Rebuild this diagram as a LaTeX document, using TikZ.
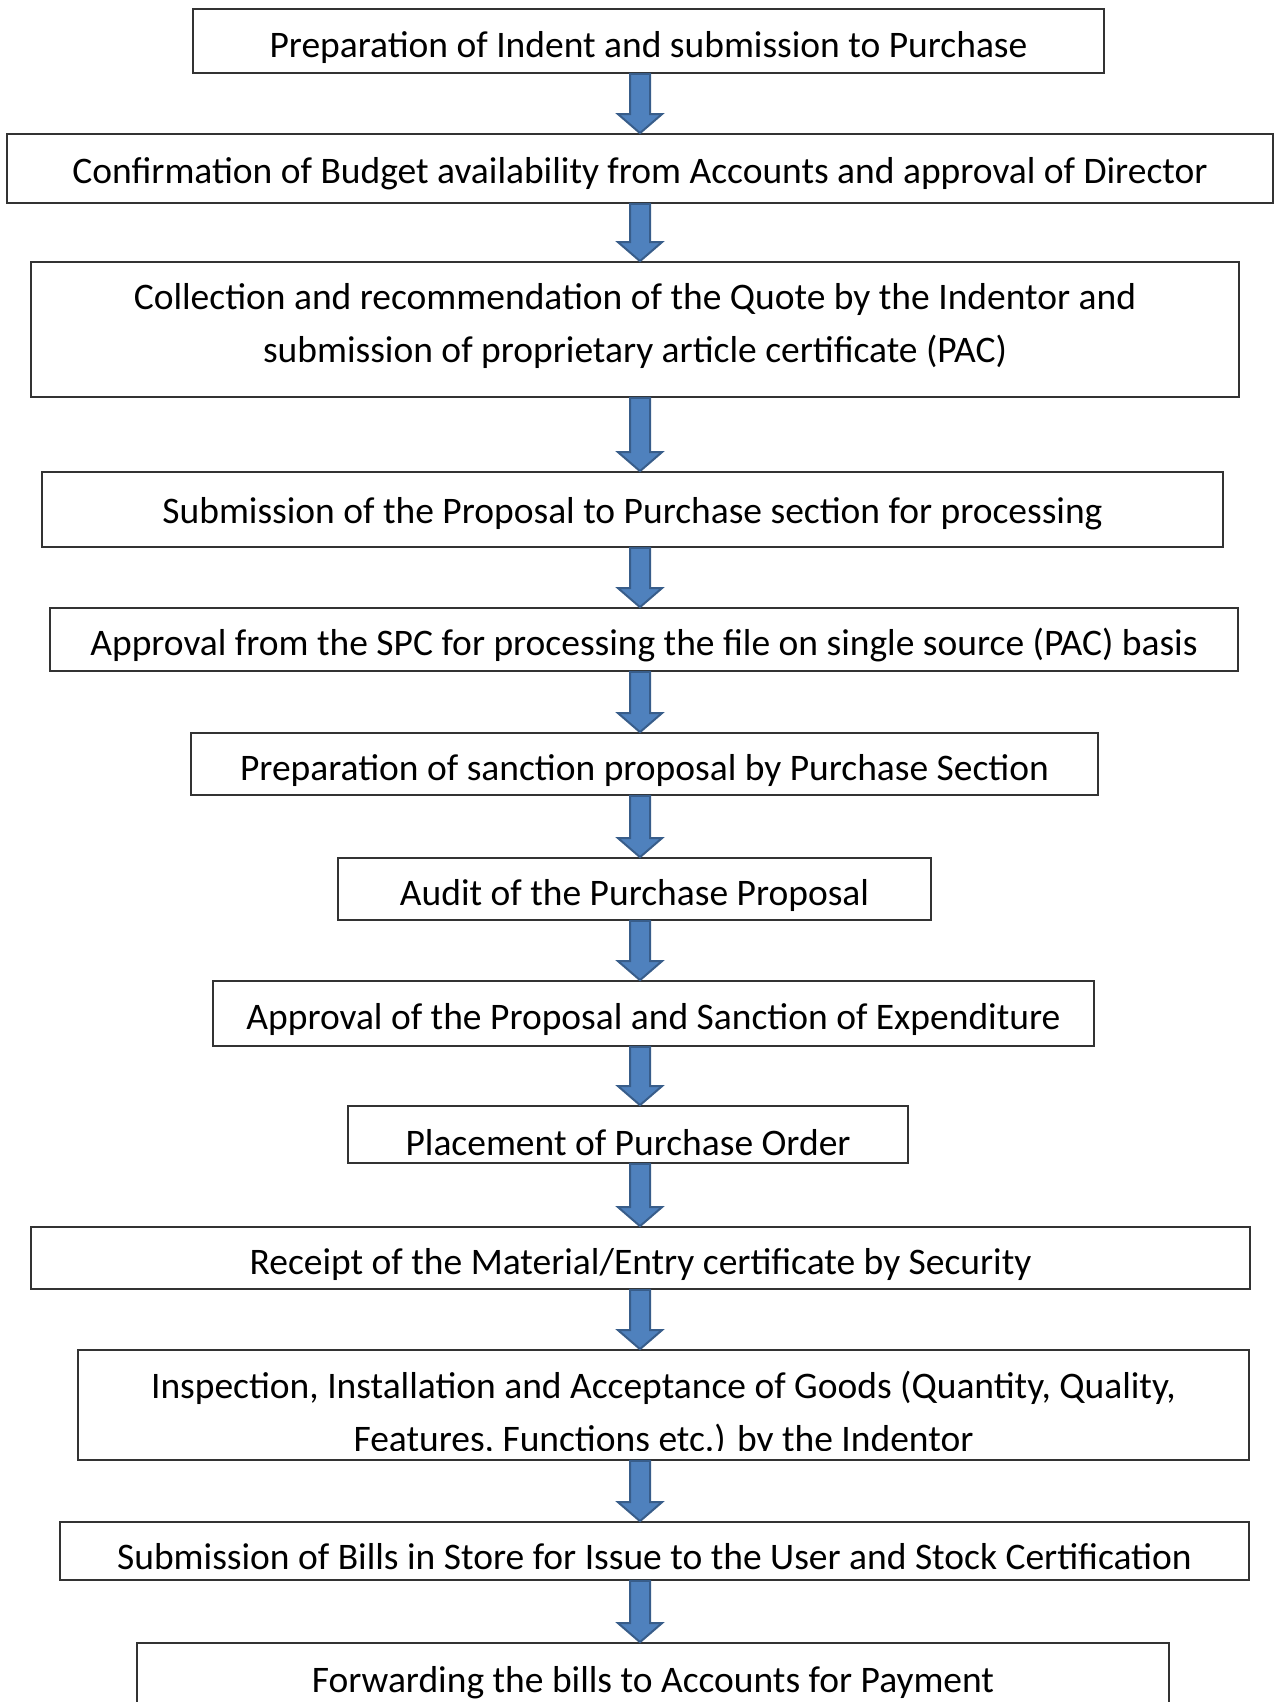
\documentclass[tikz,border=0pt]{standalone}
\usepackage{fontspec}
\setmainfont{Carlito}
\usepackage{tikz}
\usetikzlibrary{positioning, calc}
\usepackage{xcolor}
\definecolor{arrowfill}{HTML}{4F81BD}
\definecolor{arrowline}{HTML}{385D8A}
\newcommand{\flowarrow}[2]{\filldraw[blockarrow] let \p1=(#1.south -| spine), \p2=(#2.north -| spine) in (\x1-4pt,\y1) -- (\x1+4pt,\y1) -- (\x1+4pt,\y2+7.6pt) -- (\x1+8.8pt,\y2+7.6pt) -- (\x1,\y2) -- (\x1-8.8pt,\y2+7.6pt) -- (\x1-4pt,\y2+7.6pt) -- cycle;}

\begin{document}
\begin{tikzpicture}[ x=0.4pt, y=-0.4pt, box/.style={ rectangle, draw=black!80, line width=0.7pt, inner sep=0pt, align=center, font=\fontsize{15}{21.2}\selectfont }, onebox/.style={ box, text height=12.8pt, text depth=0pt }, steptext/.style={ inner sep=0pt, align=center, font=\fontsize{15}{21.2}\selectfont }, blockarrow/.style={ fill=arrowfill, draw=arrowline, line width=0.8pt, line join=miter } ]
\useasboundingbox (0,0) rectangle (1275,1702);
\coordinate (spine) at (640,0);

% --- Steps ---
\node[onebox, minimum width=364.4pt, minimum height=25.6pt] (indent) at (648.5,41) {Preparation of Indent and submission to Purchase};

\node[onebox, minimum width=506.4pt, minimum height=27.6pt, text height=11.8pt] (budget) at (640,168.5) {Confirmation of Budget availability from Accounts and approval of Director};

\node[box, minimum width=483.2pt, minimum height=54pt, text depth=5.5pt] (quote) at (635,329.5) {%
Collection and recommendation of the Quote by the Indentor and\\ submission of proprietary article certificate (PAC)};

\node[onebox, minimum width=472.4pt, minimum height=30pt, text height=11pt] (proposal) at (632.5,509.5) {Submission of the Proposal to Purchase section for processing};

\node[onebox, minimum width=475.2pt, minimum height=25.2pt] (spc) at (644,639.5) {Approval from the SPC for processing the file on single source (PAC) basis};

\node[onebox, minimum width=362.8pt, minimum height=24.8pt] (sanction) at (644.5,764) {Preparation of sanction proposal by Purchase Section};

\node[onebox, minimum width=237.2pt, minimum height=24.8pt] (audit) at (634.5,889) {Audit of the Purchase Proposal};

\node[onebox, minimum width=352.4pt, minimum height=26pt] (approval) at (653.5,1013.5) {Approval of the Proposal and Sanction of Expenditure};

\node[onebox, minimum width=224pt, minimum height=22.8pt, text height=16.5pt] (order) at (628,1134.5) {Placement of Purchase Order};

\node[onebox, minimum width=487.6pt, minimum height=24.8pt] (receipt) at (640.5,1258) {Receipt of the Material/Entry certificate by Security};

\node[box, minimum width=468.4pt, minimum height=44pt] (inspect) at (663.5,1405) {};
\begin{scope}\clip (inspect.north west) rectangle ([yshift=4pt]inspect.south east);
\node[steptext, anchor=north] (inspecttext) at (663.5,1371) {%
Inspection, Installation and Acceptance of Goods (Quantity, Quality,\\ Features, Functions etc.) by the Indentor};\end{scope}

\node[onebox, minimum width=475.6pt, minimum height=23.2pt, text height=14.4pt] (bills) at (654.5,1551) {Submission of Bills in Store for Issue to the User and Stock Certification};

\node[onebox, minimum width=412.8pt, minimum height=26.8pt] (forward) at (653,1676.5) {Forwarding the bills to Accounts for Payment};


% --- Arrows ---
\flowarrow{indent}{budget} \flowarrow{budget}{quote} \flowarrow{quote}{proposal} \flowarrow{proposal}{spc}
\flowarrow{spc}{sanction} \flowarrow{sanction}{audit} \flowarrow{audit}{approval} \flowarrow{approval}{order}
\flowarrow{order}{receipt} \flowarrow{receipt}{inspect} \flowarrow{inspect}{bills} \flowarrow{bills}{forward}
\end{tikzpicture}
\end{document}
